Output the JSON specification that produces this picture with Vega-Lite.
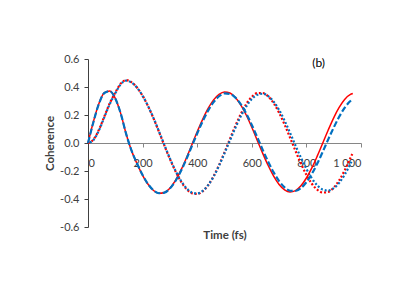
{
  "$schema": "https://vega.github.io/schema/vega-lite/v6.json",
  "width": 273,
  "height": 168,
  "autosize": "none",
  "padding": {"left": 88, "top": 59, "right": 54, "bottom": 67},
  "background": "white",
  "config": {"view": {"stroke": null}, "font": "Lato"},
  "datasets": {
    "curves": [
      {"s":"S1","t":0,"v":0},{"s":"S1","t":20,"v":0.154},{"s":"S1","t":40,"v":0.282},{"s":"S1","t":60,"v":0.359},{"s":"S1","t":80,"v":0.372},{"s":"S1","t":100,"v":0.319},{"s":"S1","t":120,"v":0.21},{"s":"S1","t":140,"v":0.063},{"s":"S1","t":160,"v":-0.058},{"s":"S1","t":180,"v":-0.149},{"s":"S1","t":200,"v":-0.231},{"s":"S1","t":220,"v":-0.295},{"s":"S1","t":240,"v":-0.339},{"s":"S1","t":260,"v":-0.359},{"s":"S1","t":280,"v":-0.353},{"s":"S1","t":300,"v":-0.323},{"s":"S1","t":320,"v":-0.269},{"s":"S1","t":340,"v":-0.196},{"s":"S1","t":360,"v":-0.109},{"s":"S1","t":380,"v":-0.014},{"s":"S1","t":400,"v":0.08},{"s":"S1","t":420,"v":0.169},{"s":"S1","t":440,"v":0.247},{"s":"S1","t":460,"v":0.308},{"s":"S1","t":480,"v":0.348},{"s":"S1","t":500,"v":0.365},{"s":"S1","t":520,"v":0.357},{"s":"S1","t":540,"v":0.325},{"s":"S1","t":560,"v":0.27},{"s":"S1","t":580,"v":0.198},{"s":"S1","t":600,"v":0.112},{"s":"S1","t":620,"v":0.019},{"s":"S1","t":640,"v":-0.074},{"s":"S1","t":660,"v":-0.161},{"s":"S1","t":680,"v":-0.237},{"s":"S1","t":700,"v":-0.297},{"s":"S1","t":720,"v":-0.335},{"s":"S1","t":740,"v":-0.35},{"s":"S1","t":760,"v":-0.34},{"s":"S1","t":780,"v":-0.306},{"s":"S1","t":800,"v":-0.25},{"s":"S1","t":820,"v":-0.178},{"s":"S1","t":840,"v":-0.092},{"s":"S1","t":860,"v":0},{"s":"S1","t":880,"v":0.093},{"s":"S1","t":900,"v":0.18},{"s":"S1","t":920,"v":0.254},{"s":"S1","t":940,"v":0.311},{"s":"S1","t":960,"v":0.345},{"s":"S1","t":970,"v":0.353},
      {"s":"S2","t":0,"v":0},{"s":"S2","t":20,"v":0.15},{"s":"S2","t":40,"v":0.28},{"s":"S2","t":60,"v":0.357},{"s":"S2","t":80,"v":0.37},{"s":"S2","t":100,"v":0.318},{"s":"S2","t":120,"v":0.21},{"s":"S2","t":140,"v":0.063},{"s":"S2","t":160,"v":-0.057},{"s":"S2","t":180,"v":-0.148},{"s":"S2","t":200,"v":-0.229},{"s":"S2","t":220,"v":-0.294},{"s":"S2","t":240,"v":-0.338},{"s":"S2","t":260,"v":-0.359},{"s":"S2","t":280,"v":-0.354},{"s":"S2","t":300,"v":-0.325},{"s":"S2","t":320,"v":-0.273},{"s":"S2","t":340,"v":-0.202},{"s":"S2","t":360,"v":-0.117},{"s":"S2","t":380,"v":-0.024},{"s":"S2","t":400,"v":0.068},{"s":"S2","t":420,"v":0.155},{"s":"S2","t":440,"v":0.231},{"s":"S2","t":460,"v":0.292},{"s":"S2","t":480,"v":0.334},{"s":"S2","t":500,"v":0.354},{"s":"S2","t":520,"v":0.35},{"s":"S2","t":540,"v":0.324},{"s":"S2","t":560,"v":0.276},{"s":"S2","t":580,"v":0.209},{"s":"S2","t":600,"v":0.129},{"s":"S2","t":620,"v":0.041},{"s":"S2","t":640,"v":-0.049},{"s":"S2","t":660,"v":-0.134},{"s":"S2","t":680,"v":-0.21},{"s":"S2","t":700,"v":-0.272},{"s":"S2","t":720,"v":-0.317},{"s":"S2","t":740,"v":-0.341},{"s":"S2","t":760,"v":-0.343},{"s":"S2","t":780,"v":-0.322},{"s":"S2","t":800,"v":-0.28},{"s":"S2","t":820,"v":-0.22},{"s":"S2","t":840,"v":-0.146},{"s":"S2","t":860,"v":-0.062},{"s":"S2","t":880,"v":0.026},{"s":"S2","t":900,"v":0.11},{"s":"S2","t":920,"v":0.187},{"s":"S2","t":940,"v":0.251},{"s":"S2","t":960,"v":0.298},{"s":"S2","t":970,"v":0.314},
      {"s":"D1","t":0,"v":0},{"s":"D1","t":20,"v":0.025},{"s":"D1","t":40,"v":0.095},{"s":"D1","t":60,"v":0.19},{"s":"D1","t":80,"v":0.285},{"s":"D1","t":100,"v":0.36},{"s":"D1","t":120,"v":0.425},{"s":"D1","t":140,"v":0.449},{"s":"D1","t":160,"v":0.433},{"s":"D1","t":180,"v":0.395},{"s":"D1","t":200,"v":0.337},{"s":"D1","t":220,"v":0.263},{"s":"D1","t":240,"v":0.176},{"s":"D1","t":260,"v":0.08},{"s":"D1","t":280,"v":-0.019},{"s":"D1","t":300,"v":-0.114},{"s":"D1","t":320,"v":-0.2},{"s":"D1","t":340,"v":-0.273},{"s":"D1","t":360,"v":-0.327},{"s":"D1","t":380,"v":-0.358},{"s":"D1","t":400,"v":-0.364},{"s":"D1","t":420,"v":-0.345},{"s":"D1","t":440,"v":-0.302},{"s":"D1","t":460,"v":-0.238},{"s":"D1","t":480,"v":-0.158},{"s":"D1","t":500,"v":-0.067},{"s":"D1","t":520,"v":0.029},{"s":"D1","t":540,"v":0.123},{"s":"D1","t":560,"v":0.208},{"s":"D1","t":580,"v":0.279},{"s":"D1","t":600,"v":0.329},{"s":"D1","t":620,"v":0.356},{"s":"D1","t":640,"v":0.357},{"s":"D1","t":660,"v":0.333},{"s":"D1","t":680,"v":0.285},{"s":"D1","t":700,"v":0.216},{"s":"D1","t":720,"v":0.132},{"s":"D1","t":740,"v":0.039},{"s":"D1","t":760,"v":-0.056},{"s":"D1","t":780,"v":-0.147},{"s":"D1","t":800,"v":-0.227},{"s":"D1","t":820,"v":-0.291},{"s":"D1","t":840,"v":-0.334},{"s":"D1","t":860,"v":-0.354},{"s":"D1","t":880,"v":-0.349},{"s":"D1","t":900,"v":-0.319},{"s":"D1","t":920,"v":-0.267},{"s":"D1","t":940,"v":-0.196},{"s":"D1","t":960,"v":-0.112},{"s":"D1","t":968,"v":-0.078},
      {"s":"D2","t":0,"v":0},{"s":"D2","t":20,"v":0.022},{"s":"D2","t":40,"v":0.09},{"s":"D2","t":60,"v":0.185},{"s":"D2","t":80,"v":0.28},{"s":"D2","t":100,"v":0.355},{"s":"D2","t":120,"v":0.42},{"s":"D2","t":140,"v":0.445},{"s":"D2","t":160,"v":0.431},{"s":"D2","t":180,"v":0.394},{"s":"D2","t":200,"v":0.337},{"s":"D2","t":220,"v":0.264},{"s":"D2","t":240,"v":0.178},{"s":"D2","t":260,"v":0.083},{"s":"D2","t":280,"v":-0.015},{"s":"D2","t":300,"v":-0.11},{"s":"D2","t":320,"v":-0.196},{"s":"D2","t":340,"v":-0.268},{"s":"D2","t":360,"v":-0.322},{"s":"D2","t":380,"v":-0.353},{"s":"D2","t":400,"v":-0.36},{"s":"D2","t":420,"v":-0.342},{"s":"D2","t":440,"v":-0.301},{"s":"D2","t":460,"v":-0.24},{"s":"D2","t":480,"v":-0.162},{"s":"D2","t":500,"v":-0.073},{"s":"D2","t":520,"v":0.018},{"s":"D2","t":540,"v":0.109},{"s":"D2","t":560,"v":0.192},{"s":"D2","t":580,"v":0.262},{"s":"D2","t":600,"v":0.314},{"s":"D2","t":620,"v":0.344},{"s":"D2","t":640,"v":0.352},{"s":"D2","t":660,"v":0.335},{"s":"D2","t":680,"v":0.295},{"s":"D2","t":700,"v":0.236},{"s":"D2","t":720,"v":0.16},{"s":"D2","t":740,"v":0.073},{"s":"D2","t":760,"v":-0.018},{"s":"D2","t":780,"v":-0.105},{"s":"D2","t":800,"v":-0.185},{"s":"D2","t":820,"v":-0.253},{"s":"D2","t":840,"v":-0.303},{"s":"D2","t":860,"v":-0.333},{"s":"D2","t":880,"v":-0.34},{"s":"D2","t":900,"v":-0.323},{"s":"D2","t":920,"v":-0.285},{"s":"D2","t":940,"v":-0.227},{"s":"D2","t":960,"v":-0.154},{"s":"D2","t":965,"v":-0.134}
    ]
  },
  "encoding": {
    "x": {
      "field": "t", "type": "quantitative",
      "scale": {"domain": [0, 1000], "nice": false},
      "axis": {
        "title": "Time (fs)", "offset": -84, "values": [0, 200, 400, 600, 800, 1000],
        "labelExpr": "datum.value == 1000 ? '1 000' : datum.label", "format": "d",
        "grid": false, "domainColor": "#868686", "tickColor": "#868686", "tickSize": 4,
        "labelPadding": 10, "labelFontSize": 11, "labelColor": "#404040", "labelFont": "Lato",
        "titleFont": "Lato", "titleFontSize": 11.5, "titleFontWeight": "bold", "titleColor": "#404040",
        "titleY": 92, "titleBaseline": "middle"
      }
    },
    "y": {
      "field": "v", "type": "quantitative",
      "scale": {"domain": [-0.6, 0.6], "nice": false},
      "axis": {
        "title": "Coherence", "values": [-0.6, -0.4, -0.2, 0, 0.2, 0.4, 0.6], "format": ".1f",
        "labelExpr": "replace(datum.label, '−', '-')",
        "grid": false, "domainColor": "#404040", "tickColor": "#404040", "tickSize": 4,
        "labelPadding": 5, "labelFontSize": 11, "labelColor": "#404040", "labelFont": "Lato",
        "titleFont": "Lato", "titleFontSize": 11.5, "titleFontWeight": "bold", "titleColor": "#404040",
        "titlePadding": 4
      }
    }
  },
  "layer": [
    {"data": {"name": "curves"}, "transform": [{"filter": "datum.s == 'D1'"}],
     "mark": {"type": "line", "color": "#FF0000", "strokeWidth": 2.2, "strokeDash": [2, 2], "interpolate": "monotone"}},
    {"data": {"name": "curves"}, "transform": [{"filter": "datum.s == 'D2'"}],
     "mark": {"type": "line", "color": "#0070C0", "strokeWidth": 2.2, "strokeDash": [2, 2], "strokeDashOffset": 2, "interpolate": "monotone"}},
    {"data": {"name": "curves"}, "transform": [{"filter": "datum.s == 'S1'"}],
     "mark": {"type": "line", "color": "#FF0000", "strokeWidth": 1.5, "interpolate": "monotone"}},
    {"data": {"name": "curves"}, "transform": [{"filter": "datum.s == 'S2'"}],
     "mark": {"type": "line", "color": "#0070C0", "strokeWidth": 2.2, "strokeDash": [6, 2.5], "interpolate": "monotone"}},
    {"data": {"values": [{"t": 845, "v": 0.57, "label": "(b)"}]},
     "mark": {"type": "text", "fontSize": 12, "fontWeight": "normal", "color": "#000000", "font": "Lato"},
     "encoding": {"text": {"field": "label"}}}
  ]
}
